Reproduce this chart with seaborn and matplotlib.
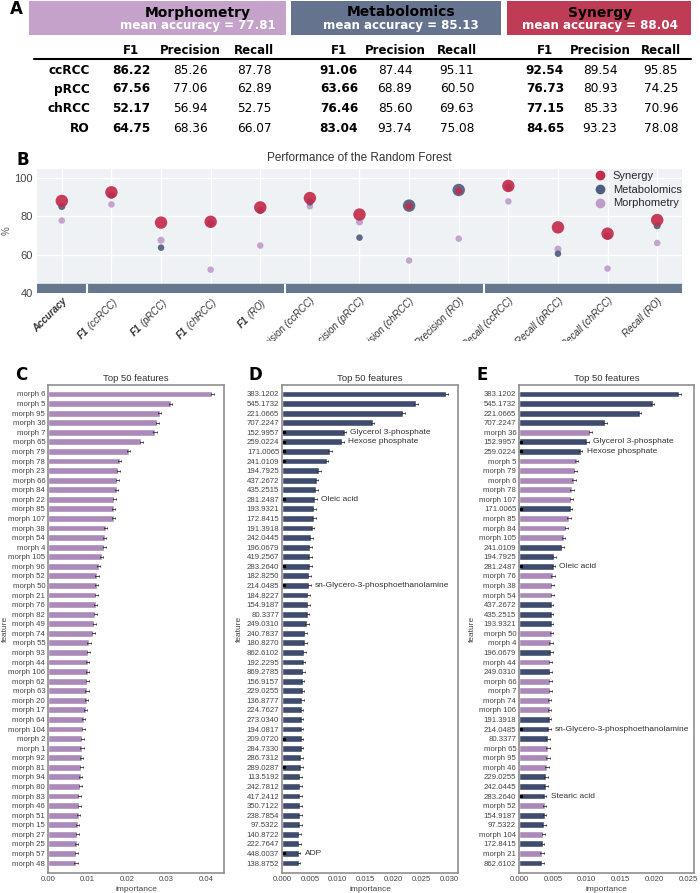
import matplotlib
matplotlib.use('Agg')
import matplotlib.pyplot as plt
from matplotlib.patches import Rectangle
from matplotlib.lines import Line2D
from matplotlib.ticker import FormatStrFormatter
import seaborn as sns
import pandas as pd
import numpy as np

W, H = 700, 893

# ---------------- data: panel A / B ----------------
modalities = ['Morphometry', 'Metabolomics', 'Synergy']
mean_accuracy = [77.81, 85.13, 88.04]
classes = ['ccRCC', 'pRCC', 'chRCC', 'RO']

morph_f1 = [86.22, 67.56, 52.17, 64.75]
morph_precision = [85.26, 77.06, 56.94, 68.36]
morph_recall = [87.78, 62.89, 52.75, 66.07]

metab_f1 = [91.06, 63.66, 76.46, 83.04]
metab_precision = [87.44, 68.89, 85.60, 93.74]
metab_recall = [95.11, 60.50, 69.63, 75.08]

syn_f1 = [92.54, 76.73, 77.15, 84.65]
syn_precision = [89.54, 80.93, 85.33, 93.23]
syn_recall = [95.85, 74.25, 70.96, 78.08]

# ---------------- data: panel C (morphometry) ----------------
c_features = ['morph 6', 'morph 5', 'morph 95', 'morph 36', 'morph 7', 'morph 65', 'morph 79',
              'morph 78', 'morph 23', 'morph 66', 'morph 84', 'morph 22', 'morph 85', 'morph 107',
              'morph 38', 'morph 54', 'morph 4', 'morph 105', 'morph 96', 'morph 52', 'morph 50',
              'morph 21', 'morph 76', 'morph 82', 'morph 49', 'morph 74', 'morph 55', 'morph 93',
              'morph 44', 'morph 106', 'morph 62', 'morph 63', 'morph 20', 'morph 17', 'morph 64',
              'morph 104', 'morph 2', 'morph 1', 'morph 92', 'morph 81', 'morph 94', 'morph 80',
              'morph 83', 'morph 46', 'morph 51', 'morph 15', 'morph 27', 'morph 25', 'morph 57',
              'morph 48']
c_importance = [0.0416, 0.0311, 0.0283, 0.0277, 0.0271, 0.0236, 0.0205, 0.0182, 0.0178, 0.0176,
                0.0174, 0.0168, 0.0167, 0.0166, 0.0146, 0.0144, 0.0143, 0.0136, 0.0129, 0.0124,
                0.0123, 0.0122, 0.0121, 0.0120, 0.0117, 0.0115, 0.0104, 0.0102, 0.0101, 0.0101,
                0.0100, 0.0099, 0.0098, 0.0096, 0.0091, 0.0089, 0.0087, 0.0086, 0.0085, 0.0084,
                0.0083, 0.0082, 0.0079, 0.0079, 0.0078, 0.0075, 0.0074, 0.0073, 0.0072, 0.0071]

# ---------------- data: panel D (metabolomics) ----------------
d_features = ['383.1202', '545.1732', '221.0665', '707.2247', '152.9957', '259.0224', '171.0065',
              '241.0109', '194.7925', '437.2672', '435.2515', '281.2487', '193.9321', '172.8415',
              '191.3918', '242.0445', '196.0679', '419.2567', '283.2640', '182.8250', '214.0485',
              '184.8227', '154.9187', '80.3377', '249.0310', '240.7837', '180.8270', '862.6102',
              '192.2295', '869.2785', '156.9157', '229.0255', '136.8777', '224.7627', '273.0340',
              '194.0817', '209.0720', '284.7330', '286.7312', '289.0287', '113.5192', '242.7812',
              '417.2412', '350.7122', '238.7854', '97.5322', '140.8722', '222.7647', '448.0037',
              '138.8752']
d_importance = [0.0294, 0.0240, 0.0217, 0.0162, 0.0112, 0.0108, 0.0086, 0.0080, 0.0066, 0.0062,
                0.0061, 0.0059, 0.0058, 0.0057, 0.0055, 0.0052, 0.0051, 0.0050, 0.0050, 0.0049,
                0.0049, 0.0047, 0.0047, 0.0046, 0.0045, 0.0042, 0.0041, 0.0040, 0.0039, 0.0038,
                0.0037, 0.0037, 0.0036, 0.0035, 0.0035, 0.0035, 0.0035, 0.0035, 0.0034, 0.0034,
                0.0033, 0.0033, 0.0032, 0.0032, 0.0032, 0.0032, 0.0031, 0.0031, 0.0030, 0.0030]
d_marked = ['152.9957', '259.0224', '171.0065', '241.0109', '281.2487', '283.2640', '214.0485',
            '209.0720', '289.0287', '448.0037']
d_names = {'152.9957': 'Glycerol 3-phosphate', '259.0224': 'Hexose phosphate',
           '281.2487': 'Oleic acid', '214.0485': 'sn-Glycero-3-phosphoethanolamine',
           '448.0037': 'ADP'}

# ---------------- data: panel E (synergy) ----------------
e_features = ['383.1202', '545.1732', '221.0665', '707.2247', 'morph 36', '152.9957', '259.0224',
              'morph 5', 'morph 79', 'morph 6', 'morph 78', 'morph 107', '171.0065', 'morph 85',
              'morph 84', 'morph 105', '241.0109', '194.7925', '281.2487', 'morph 76', 'morph 38',
              'morph 54', '437.2672', '435.2515', '193.9321', 'morph 50', 'morph 4', '196.0679',
              'morph 44', '249.0310', 'morph 66', 'morph 7', 'morph 74', 'morph 106', '191.3918',
              '214.0485', '80.3377', 'morph 65', 'morph 95', 'morph 46', '229.0255', '242.0445',
              '283.2640', 'morph 52', '154.9187', '97.5322', 'morph 104', '172.8415', 'morph 21',
              '862.6102']
e_importance = [0.0236, 0.0197, 0.0178, 0.0127, 0.0105, 0.0100, 0.0091, 0.0085, 0.0083, 0.0081,
                0.0078, 0.0077, 0.0076, 0.0074, 0.0070, 0.0066, 0.0064, 0.0052, 0.0051, 0.0050,
                0.0049, 0.0049, 0.0048, 0.0048, 0.0048, 0.0048, 0.0047, 0.0047, 0.0046, 0.0046,
                0.0046, 0.0046, 0.0045, 0.0045, 0.0045, 0.0044, 0.0043, 0.0043, 0.0043, 0.0041,
                0.0040, 0.0040, 0.0038, 0.0038, 0.0038, 0.0037, 0.0036, 0.0035, 0.0034, 0.0034]
e_marked = ['152.9957', '259.0224', '171.0065', '281.2487', '214.0485', '283.2640']
e_names = {'152.9957': 'Glycerol 3-phosphate', '259.0224': 'Hexose phosphate',
           '281.2487': 'Oleic acid', '214.0485': 'sn-Glycero-3-phosphoethanolamine',
           '283.2640': 'Stearic acid'}

# ---------------- style ----------------
sns.set_theme(style='white')
plt.rcParams['font.family'] = ['Liberation Sans', 'DejaVu Sans']
plt.rcParams['mathtext.fontset'] = 'custom'
plt.rcParams['mathtext.rm'] = 'Liberation Sans'
plt.rcParams['mathtext.bfit'] = 'Liberation Sans:italic:bold'

box_colors = ['#c4a2c9', '#66738f', '#bf3c56']
dot_colors = {'Morphometry': '#c09ccb', 'Metabolomics': '#4f5d80', 'Synergy': '#c32c4c'}
bar_colors = {'morph': '#ab89b8', 'metab': '#3f4c6d'}

fig = plt.figure(figsize=(W / 100, H / 100), dpi=100)

# ---------------- panel B ----------------
axB = fig.add_axes([37 / W, 1 - 293 / H, 645 / W, 124 / H])
metric_labels = ['Accuracy'] + ['$\\mathbfit{F1}$ (%s)' % c for c in classes] \
    + ['Precision (%s)' % c for c in classes] + ['Recall (%s)' % c for c in classes]
series = {
    'Morphometry': [mean_accuracy[0]] + morph_f1 + morph_precision + morph_recall,
    'Metabolomics': [mean_accuracy[1]] + metab_f1 + metab_precision + metab_recall,
    'Synergy': [mean_accuracy[2]] + syn_f1 + syn_precision + syn_recall,
}
rows = []
for mod in modalities:
    for i, v in enumerate(series[mod]):
        rows.append({'pos': i, 'value': v, 'modality': mod})
dfB = pd.DataFrame(rows)
dfB['rank'] = dfB.groupby('pos')['value'].rank(ascending=False).astype(int)

axB.set_facecolor('#eef2f5')
axB.axhspan(40, 44.6, color='#66788e', zorder=1)
axB.vlines([0.5, 4.5, 8.5], 40, 44.6, color='white', lw=1.5, zorder=2)
sns.scatterplot(data=dfB, x='pos', y='value', hue='modality', palette=dot_colors,
                size='rank', sizes={1: 80, 2: 26, 3: 22}, legend=False,
                edgecolor='none', alpha=0.92, ax=axB, zorder=3)
axB.set_xlim(-0.5, 12.5)
axB.set_ylim(40, 104.7)
axB.set_yticks([40, 60, 80, 100])
axB.set_xticks(range(len(metric_labels)))
axB.set_xticklabels(metric_labels, rotation=45, ha='right', rotation_mode='anchor',
                    fontsize=7, style='italic', color='#333333')
axB.get_xticklabels()[0].set_fontweight('bold')
axB.tick_params(axis='y', length=0, pad=3, labelsize=8, colors='#444444')
axB.tick_params(axis='x', length=0, pad=2)
axB.grid(True, color='white', lw=1)
axB.set_axisbelow(True)
for s in axB.spines.values():
    s.set_visible(False)
axB.set_xlabel('')
axB.set_ylabel('%', fontsize=7, color='#555555')
axB.yaxis.set_label_coords(-0.04, 0.5)
axB.set_title('Performance of the Random Forest', fontsize=8.5, color='#333333', pad=6)
handles = [Line2D([], [], marker='o', ls='', ms=6, color=dot_colors[m], label=m)
           for m in ['Synergy', 'Metabolomics', 'Morphometry']]
axB.legend(handles=handles, loc='upper right', bbox_to_anchor=(1.01, 1.04), frameon=False,
           fontsize=8, handletextpad=0.2, labelspacing=0.35, borderaxespad=0.2)

# the x labels of B are cut off just above panels C-E
clip = Rectangle((0, 1 - 341 / H), 1, 341 / H, transform=fig.transFigure, visible=False)
fig.add_artist(clip)
for lab in axB.get_xticklabels():
    lab.set_clip_on(True)
    lab.set_clip_path(clip)


# ---------------- panels C / D / E ----------------
def feature_panel(left, width, feats, vals, xmax, xticks, fmt, err, marked, names, ylab_x):
    ax = fig.add_axes([left / W, 20 / H, width / W, 488 / H])
    kind = ['morph' if f.startswith('morph') else 'metab' for f in feats]
    df = pd.DataFrame({'feature': feats, 'importance': vals, 'kind': kind})
    sns.barplot(data=df, x='importance', y='feature', hue='kind', palette=bar_colors,
                dodge=False, legend=False, width=0.72, saturation=1, ax=ax)
    ypos = np.arange(len(feats))
    ax.errorbar(vals, ypos, xerr=err, fmt='none', ecolor='#333333', elinewidth=0.6,
                capsize=1.0, capthick=0.6, zorder=4)
    for f in marked:
        i = feats.index(f)
        ax.plot(xmax * 0.012, i, 's', ms=1.3, color='black', zorder=5)
    for f, name in names.items():
        i = feats.index(f)
        ax.annotate(name, xy=(vals[i] + err, i), xytext=(3, 0), textcoords='offset points',
                    va='center', ha='left', fontsize=6, color='#333333')
    ax.set_xlim(0, xmax)
    ax.set_ylim(len(feats) - 1 + 1.04, -0.94)
    ax.set_xticks(xticks)
    ax.xaxis.set_major_formatter(FormatStrFormatter(fmt))
    ax.tick_params(axis='both', length=0, pad=2, labelsize=5.6, colors='#444444')
    ax.set_xlabel('importance', fontsize=6, color='#444444', labelpad=2)
    ax.set_ylabel('feature', fontsize=6, color='#444444')
    ax.yaxis.set_label_coords(ylab_x, 0.5)
    ax.set_title('Top 50 features', fontsize=6.8, color='#333333', pad=3)
    for s in ax.spines.values():
        s.set_color('#8f8f8f')
        s.set_linewidth(1.2)
    return ax


feature_panel(48, 176, c_features, c_importance, 0.0446,
              [0.0, 0.01, 0.02, 0.03, 0.04], '%.2f', 0.0004, [], {}, -0.225)
feature_panel(282, 176, d_features, d_importance, 0.0315,
              [0.0, 0.005, 0.01, 0.015, 0.02, 0.025, 0.03], '%.3f', 0.0003, d_marked, d_names,
              -0.22)
feature_panel(519, 175, e_features, e_importance, 0.0258,
              [0.0, 0.005, 0.01, 0.015, 0.02, 0.025], '%.3f', 0.00025, e_marked, e_names, -0.245)

# ---------------- panel A (table) + panel letters ----------------
cv = fig.add_axes([0, 0, 1, 1], zorder=10)
cv.set_xlim(0, W)
cv.set_ylim(H, 0)
cv.axis('off')
cv.patch.set_visible(False)

box_x = [(29, 286), (291, 501), (507, 691)]
title_cx = [198, 401, 600]
col_x = [[131, 190, 254], [339, 395, 457], [545, 600, 661]]
row_y = [70, 89, 109, 128]
tables = [(morph_f1, morph_precision, morph_recall),
          (metab_f1, metab_precision, metab_recall),
          (syn_f1, syn_precision, syn_recall)]
dv = 'DejaVu Sans'
for k, mod in enumerate(modalities):
    x0, x1 = box_x[k]
    cv.add_patch(Rectangle((x0, 1), x1 - x0, 34, color=box_colors[k], lw=0))
    cv.text(title_cx[k], 12.5, mod, ha='center', va='center', fontsize=10,
            fontweight='bold', family=dv, color='black')
    cv.text(title_cx[k], 26, 'mean accuracy = %.2f' % mean_accuracy[k], ha='center',
            va='center', fontsize=8.6, fontweight='bold', family=dv, color='white')
    for j, head in enumerate(['F1', 'Precision', 'Recall']):
        cv.text(col_x[k][j], 51, head, ha='center', va='center', fontsize=8.5,
                fontweight='bold', family=dv, color='black')
        for r in range(4):
            cv.text(col_x[k][j], row_y[r], '%.2f' % tables[k][j][r], ha='center', va='center',
                    fontsize=8.7, fontweight='bold' if j == 0 else 'normal', family=dv,
                    color='black')
for r, c in enumerate(classes):
    cv.text(90, row_y[r], c, ha='right', va='center', fontsize=8.7, fontweight='bold',
            family=dv, color='black')
cv.plot([34, 691], [59, 59], color='black', lw=1.5)

for letter, x, y in [('A', 10, 9), ('B', 16, 160), ('C', 15, 375), ('D', 249, 375), ('E', 477, 375)]:
    cv.text(x, y, letter, ha='left', va='center', fontsize=12, fontweight='bold', family=dv,
            color='black')

fig.savefig('out.png', dpi=100)
